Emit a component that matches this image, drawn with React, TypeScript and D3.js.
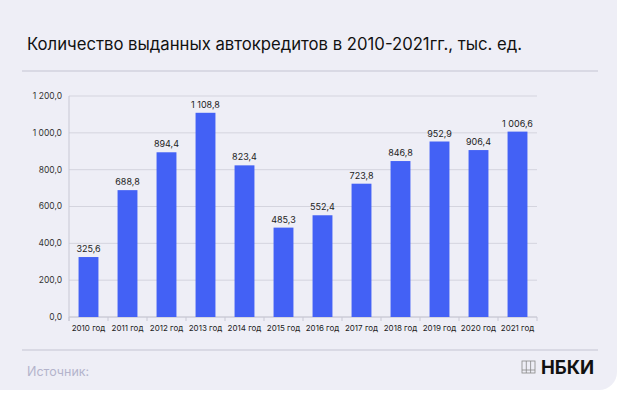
import { useEffect, useRef } from "react";
import * as d3 from "d3";

const years = ["2010 год", "2011 год", "2012 год", "2013 год", "2014 год", "2015 год", "2016 год", "2017 год", "2018 год", "2019 год", "2020 год", "2021 год"];
const loans = [325.6, 688.8, 894.4, 1108.8, 823.4, 485.3, 552.4, 723.8, 846.8, 952.9, 906.4, 1006.6];
const yTicks = [0, 200, 400, 600, 800, 1000, 1200];

const W = 623;
const H = 395;

// "1 108,8" style
const fmt = (v: number) => {
  const [i, f] = v.toFixed(1).split(".");
  return i.replace(/\B(?=(\d{3})+(?!\d))/g, "\u00a0") + "," + f;
};

export default function App() {
  const ref = useRef<SVGSVGElement | null>(null);

  useEffect(() => {
    if (!ref.current) return;
    const svg = d3.select(ref.current);
    svg.selectAll("*").remove();

    const font = "Inter, 'DejaVu Sans', sans-serif";

    svg.append("rect").attr("width", W).attr("height", H).attr("fill", "#ffffff");
    svg
      .append("rect")
      .attr("x", -20)
      .attr("y", -20)
      .attr("width", 637)
      .attr("height", 410)
      .attr("rx", 18)
      .attr("fill", "#eeeef6");

    svg
      .append("text")
      .attr("x", 27)
      .attr("y", 50)
      .attr("font-family", font)
      .attr("font-size", 16.7)
      .attr("fill", "#111")
      .text("Количество выданных автокредитов в 2010-2021гг., тыс. ед.");

    svg.append("line").attr("x1", 22).attr("x2", 598).attr("y1", 71).attr("y2", 71).attr("stroke", "#d2d2de").attr("stroke-width", 1.5);
    svg.append("line").attr("x1", 22).attr("x2", 598).attr("y1", 350).attr("y2", 350).attr("stroke", "#d2d2de").attr("stroke-width", 1.5);

    const x = d3.scaleBand().domain(years).range([69, 537]).paddingInner(0.49).paddingOuter(0.245);
    const y = d3.scaleLinear().domain([0, 1200]).range([317, 96]);

    const g = svg.append("g");

    g.selectAll(".grid")
      .data(yTicks)
      .enter()
      .append("line")
      .attr("x1", 69)
      .attr("x2", 537)
      .attr("y1", (d) => y(d))
      .attr("y2", (d) => y(d))
      .attr("stroke", "#d4d4de")
      .attr("stroke-width", 1);

    g.selectAll(".ytl")
      .data(yTicks)
      .enter()
      .append("text")
      .attr("x", 62)
      .attr("y", (d) => y(d))
      .attr("dy", "0.35em")
      .attr("text-anchor", "end")
      .attr("font-family", font)
      .attr("font-size", 8.5)
      .attr("fill", "#333")
      .text((d) => fmt(d));

    // axis lines
    g.append("line").attr("x1", 69).attr("x2", 69).attr("y1", 96).attr("y2", 321).attr("stroke", "#c8c8d4");
    g.append("line").attr("x1", 69).attr("x2", 537).attr("y1", 317).attr("y2", 317).attr("stroke", "#c8c8d4");

    const step = x.step();
    g.selectAll(".tick")
      .data(d3.range(years.length + 1))
      .enter()
      .append("line")
      .attr("x1", (i) => 69 + i * step)
      .attr("x2", (i) => 69 + i * step)
      .attr("y1", 317)
      .attr("y2", 321)
      .attr("stroke", "#c8c8d4");

    g.selectAll(".bar")
      .data(loans)
      .enter()
      .append("rect")
      .attr("x", (_, i) => x(years[i])!)
      .attr("width", x.bandwidth())
      .attr("y", (d) => y(d))
      .attr("height", (d) => y(0) - y(d))
      .attr("fill", "#4361f5");

    g.selectAll(".val")
      .data(loans)
      .enter()
      .append("text")
      .attr("x", (_, i) => x(years[i])! + x.bandwidth() / 2)
      .attr("y", (d) => y(d) - 5)
      .attr("text-anchor", "middle")
      .attr("font-family", font)
      .attr("font-size", 9)
      .attr("fill", "#222")
      .text((d) => fmt(d));

    g.selectAll(".xl")
      .data(years)
      .enter()
      .append("text")
      .attr("x", (d) => x(d)! + x.bandwidth() / 2)
      .attr("y", 331)
      .attr("text-anchor", "middle")
      .attr("font-family", font)
      .attr("font-size", 8)
      .attr("fill", "#222")
      .text((d) => d);

    svg
      .append("text")
      .attr("x", 27)
      .attr("y", 376)
      .attr("font-family", font)
      .attr("font-size", 12.5)
      .attr("fill", "#b4b4cc")
      .text("Источник:");

    // logo icon
    const logo = svg.append("g").attr("stroke", "#888").attr("fill", "none").attr("stroke-width", 0.8);
    logo.append("rect").attr("x", 522).attr("y", 361).attr("width", 13).attr("height", 12);
    [526.3, 530.6].forEach((lx) =>
      logo.append("line").attr("x1", lx).attr("x2", lx).attr("y1", 361).attr("y2", 373)
    );
    logo.append("line").attr("x1", 522).attr("x2", 535).attr("y1", 370).attr("y2", 370);

    svg
      .append("text")
      .attr("x", 541)
      .attr("y", 374)
      .attr("font-family", font)
      .attr("font-size", 18.5)
      .attr("font-weight", 700)
      .attr("fill", "#111")
      .text("НБКИ");
  }, []);

  return (
    <svg
      ref={ref}
      width={W}
      height={H}
      style={{ position: "absolute", left: 0, top: 0, display: "block" }}
    />
  );
}
